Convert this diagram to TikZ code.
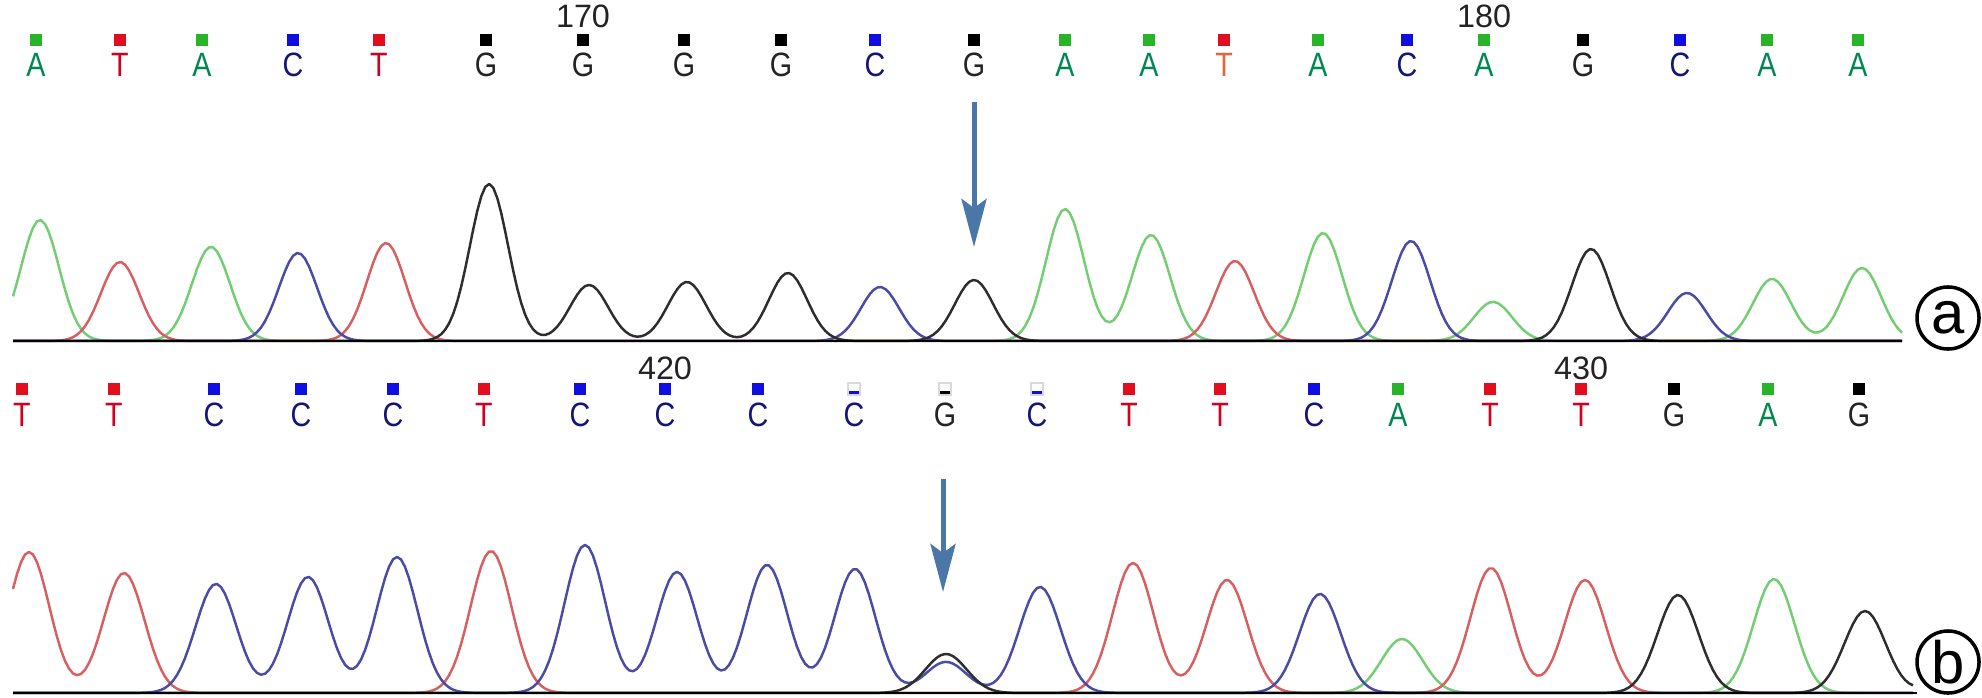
\documentclass[tikz,border=0pt]{standalone}
\usepackage{fontspec}
\setmainfont{Liberation Sans}
\newfontfamily\basefont[FakeStretch=0.85]{Liberation Sans}
\usetikzlibrary{arrows.meta}

\definecolor{letA}{RGB}{0,135,80}
\definecolor{letT}{RGB}{210,0,30}
\definecolor{letTo}{RGB}{230,100,60}
\definecolor{letC}{RGB}{20,20,120}
\definecolor{letG}{RGB}{35,35,35}
\definecolor{sqA}{RGB}{40,180,40}
\definecolor{sqT}{RGB}{225,15,30}
\definecolor{sqC}{RGB}{15,15,225}
\definecolor{sqG}{RGB}{0,0,0}
\definecolor{trA}{RGB}{115,205,115}
\definecolor{trT}{RGB}{215,95,95}
\definecolor{trC}{RGB}{75,75,165}
\definecolor{trG}{RGB}{45,45,45}
\definecolor{arrowblue}{RGB}{74,118,168}

\begin{document}
\begin{tikzpicture}[x=0.01cm, y=-0.01cm,
  declare function={pk(\q,\m,\p,\s)=\p*exp(-min(((\q-\m)/\s)^2,9));},
  base/.style={font=\basefont\fontsize{9.6}{10}\selectfont, inner sep=0pt},
  posnum/.style={font=\fontsize{9.2}{10}\selectfont, text=letG, inner sep=0pt},
  sqbox/.style={fill=#1, minimum size=0.12cm, inner sep=0pt},
  weakbox/.style={draw=black!15, fill=white, line width=0.4pt, minimum size=0.12cm, inner sep=0pt,
    path picture={\fill[#1] (path picture bounding box.south west) rectangle ([yshift=0.045cm]path picture bounding box.south east);}},
  trace/.style={line width=0.7pt, line join=round},
  mut/.style={draw=arrowblue, line width=0.05cm, -{Stealth[length=0.48cm, width=0.25cm, inset=0.09cm]}},
  tag/.style={circle, draw, line width=1pt, minimum size=0.62cm, inner sep=0pt, font=\fontsize{17}{17}\selectfont}]
  \useasboundingbox (0,0) rectangle (1982,697);

  % Panel (a): base calls
  \foreach \x/\b/\c [count=\i] in {36/A/letA, 120/T/letT, 202/A/letA, 293/C/letC, 379/T/letT, 486/G/letG, 583/G/letG, 684/G/letG, 781/G/letG, 875/C/letC, 974/G/letG, 1065/A/letA, 1149/A/letA, 1224/T/letTo, 1318/A/letA, 1407/C/letC, 1484/A/letA, 1583/G/letG, 1680/C/letC, 1767/A/letA, 1858/A/letA}{
    \node[sqbox=sq\b] (sa\i) at (\x,40) {};
    \node[base, text=\c] (la\i) at (\x,65) {\b};
  }
  \node[posnum] (n170) at (583,16) {170};
  \node[posnum] (n180) at (1484,16) {180};

  % Panel (a): traces
  \draw[trace, trA] plot[domain=13:1902, samples=473] (\x, {341 - pk(\x,40,121,27) - pk(\x,211,94,27) - pk(\x,1065,132,27) - pk(\x,1151,106,27) - pk(\x,1323,108,27) - pk(\x,1493,39,27) - pk(\x,1772,62,27) - pk(\x,1862,73,27)});
  \draw[trace, trT] plot[domain=13:1902, samples=473] (\x, {341 - pk(\x,120,79,27) - pk(\x,386,98,27) - pk(\x,1235,80,27)});
  \draw[trace, trC] plot[domain=13:1902, samples=473] (\x, {341 - pk(\x,298,88,27) - pk(\x,880,54,27) - pk(\x,1411,100,27) - pk(\x,1687,48,27)});
  \draw[trace, trG] plot[domain=13:1902, samples=473] (\x, {341 - pk(\x,489,157,27) - pk(\x,589,56,27) - pk(\x,687,59,27) - pk(\x,788,68,27) - pk(\x,974,61,27) - pk(\x,1591,92,27)});
  \draw[line width=0.8pt] (13,341) -- (1902,341);

  \coordinate (mutA top) at (974,102);
  \coordinate (mutA tip) at (974,247);
  \draw[mut] (mutA top) -- (mutA tip);
  \node[tag] (tagA) at (1948,318) {a};

  % Panel (b): base calls
  \foreach \x/\b [count=\i] in {22/T, 114/T, 214/C, 301/C, 393/C, 484/T, 580/C, 665/C, 758/C, 854/C, 945/G, 1037/C, 1129/T, 1220/T, 1314/C, 1398/A, 1490/T, 1581/T, 1674/G, 1768/A, 1859/G}{
    \ifnum\i>9 \ifnum\i<13 \def\sq{weakbox}\else\def\sq{sqbox}\fi\else\def\sq{sqbox}\fi
    \node[\sq=sq\b] (sb\i) at (\x,389) {};
    \node[base, text=let\b] (lb\i) at (\x,415) {\b};
  }
  \node[posnum] (n420) at (665,368) {420};
  \node[posnum] (n430) at (1581,368) {430};

  % Panel (b): traces
  \draw[trace, trA] plot[domain=13:1913, samples=476] (\x, {693 - pk(\x,1402,54,29) - pk(\x,1774,114,29)});
  \draw[trace, trT] plot[domain=13:1913, samples=476] (\x, {693 - pk(\x,29,141,29) - pk(\x,124,120,29) - pk(\x,491,142,29) - pk(\x,1133,130,29) - pk(\x,1227,113,29) - pk(\x,1491,125,29) - pk(\x,1585,113,29)});
  \draw[trace, trC] plot[domain=13:1913, samples=476] (\x, {693 - pk(\x,216,109,29) - pk(\x,308,116,29) - pk(\x,397,136,29) - pk(\x,585,148,29) - pk(\x,677,121,29) - pk(\x,767,128,29) - pk(\x,855,124,29) - pk(\x,946,31,29) - pk(\x,1040,106,29) - pk(\x,1320,99,29)});
  \draw[trace, trG] plot[domain=13:1913, samples=476] (\x, {693 - pk(\x,946,39,29) - pk(\x,1678,98,29) - pk(\x,1865,82,29) - pk(\x,1965,60,29)});
  \draw[line width=0.8pt] (13,693) -- (1917,693);

  \coordinate (mutB top) at (943,479);
  \coordinate (mutB tip) at (943,592);
  \draw[mut] (mutB top) -- (mutB tip);
  \node[tag] (tagB) at (1948,662) {b};
\end{tikzpicture}
\end{document}
